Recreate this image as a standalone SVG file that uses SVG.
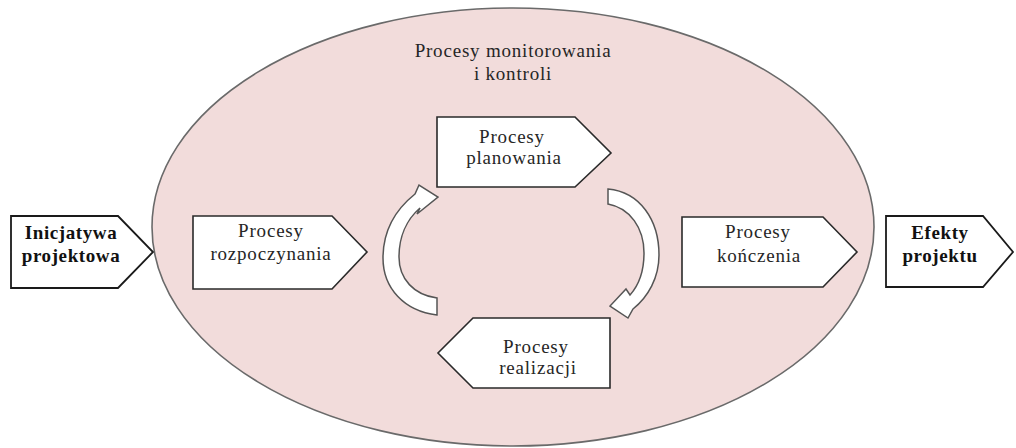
<svg xmlns="http://www.w3.org/2000/svg" width="1016" height="448" viewBox="0 0 1016 448">
  <style>
    .box { fill: #ffffff; stroke: #2a2a2a; stroke-width: 1.6; stroke-linejoin: miter; }
    .outer { fill: #ffffff; stroke: #1a1a1a; stroke-width: 1.8; }
    .lbl { font-family: "Liberation Serif", "DejaVu Serif", serif; font-size: 19px; fill: #262626; text-anchor: middle; letter-spacing: 0.8px; }
    .bold { font-weight: bold; fill: #111111; letter-spacing: 0.6px; }
    .arc { fill: #ffffff; stroke: #555555; stroke-width: 1.5; stroke-linejoin: miter; }
  </style>

  <!-- monitoring and control process: background ellipse -->
  <g id="monitorowanie">
    <ellipse cx="513" cy="227" rx="361" ry="219" fill="#f2dcdb" stroke="#6a6a6a" stroke-width="1.6"/>
    <text class="lbl" x="513" y="57">Procesy monitorowania</text>
    <text class="lbl" x="513" y="80">i kontroli</text>
  </g>

  <!-- project initiative (input) -->
  <g id="inicjatywa">
    <polygon class="outer" points="11,216 118,216 153,252 118,288 11,288"/>
    <text class="lbl bold" x="71" y="239">Inicjatywa</text>
    <text class="lbl bold" x="71" y="262">projektowa</text>
  </g>

  <!-- initiating processes -->
  <g id="rozpoczynanie">
    <polygon class="box" points="193,216 332,216 367,252 332,289 193,289"/>
    <text class="lbl" x="271" y="237">Procesy</text>
    <text class="lbl" x="271" y="260">rozpoczynania</text>
  </g>

  <!-- planning processes -->
  <g id="planowanie">
    <polygon class="box" points="437,117 575,117 611,153 575,187 437,187"/>
    <text class="lbl" x="512" y="143">Procesy</text>
    <text class="lbl" x="514" y="164">planowania</text>
  </g>

  <!-- executing processes -->
  <g id="realizacja">
    <polygon class="box" points="610,318 473,318 438,353 473,388 610,388"/>
    <text class="lbl" x="536" y="353">Procesy</text>
    <text class="lbl" x="538" y="374">realizacji</text>
  </g>

  <!-- closing processes -->
  <g id="konczenie">
    <polygon class="box" points="682,217 823,217 857,252 823,287 682,287"/>
    <text class="lbl" x="758" y="238">Procesy</text>
    <text class="lbl" x="759" y="262">kończenia</text>
  </g>

  <!-- project results (output) -->
  <g id="efekty">
    <polygon class="outer" points="886,216 983,216 1013,252 983,287 886,287"/>
    <text class="lbl bold" x="940" y="239">Efekty</text>
    <text class="lbl bold" x="940" y="262">projektu</text>
  </g>

  <!-- cycle arrows between planning and execution -->
  <g id="connectors">
    <path class="arc" d="M437,315 C404,311 383,288 383,258 C383,232 395,210 415,194 L419,185 L438,197 L417,214 L420,208 C406,220 399,238 399,257 C399,279 414,295 437,298 Z"/>
    <path class="arc" d="M608,189 C640,192 659,220 659,255 C659,278 648,297 633,309 L628,318 L610,306 L626,289 L630,295 C639,285 644,270 644,253 C644,228 630,208 608,204 Z"/>
  </g>
</svg>
